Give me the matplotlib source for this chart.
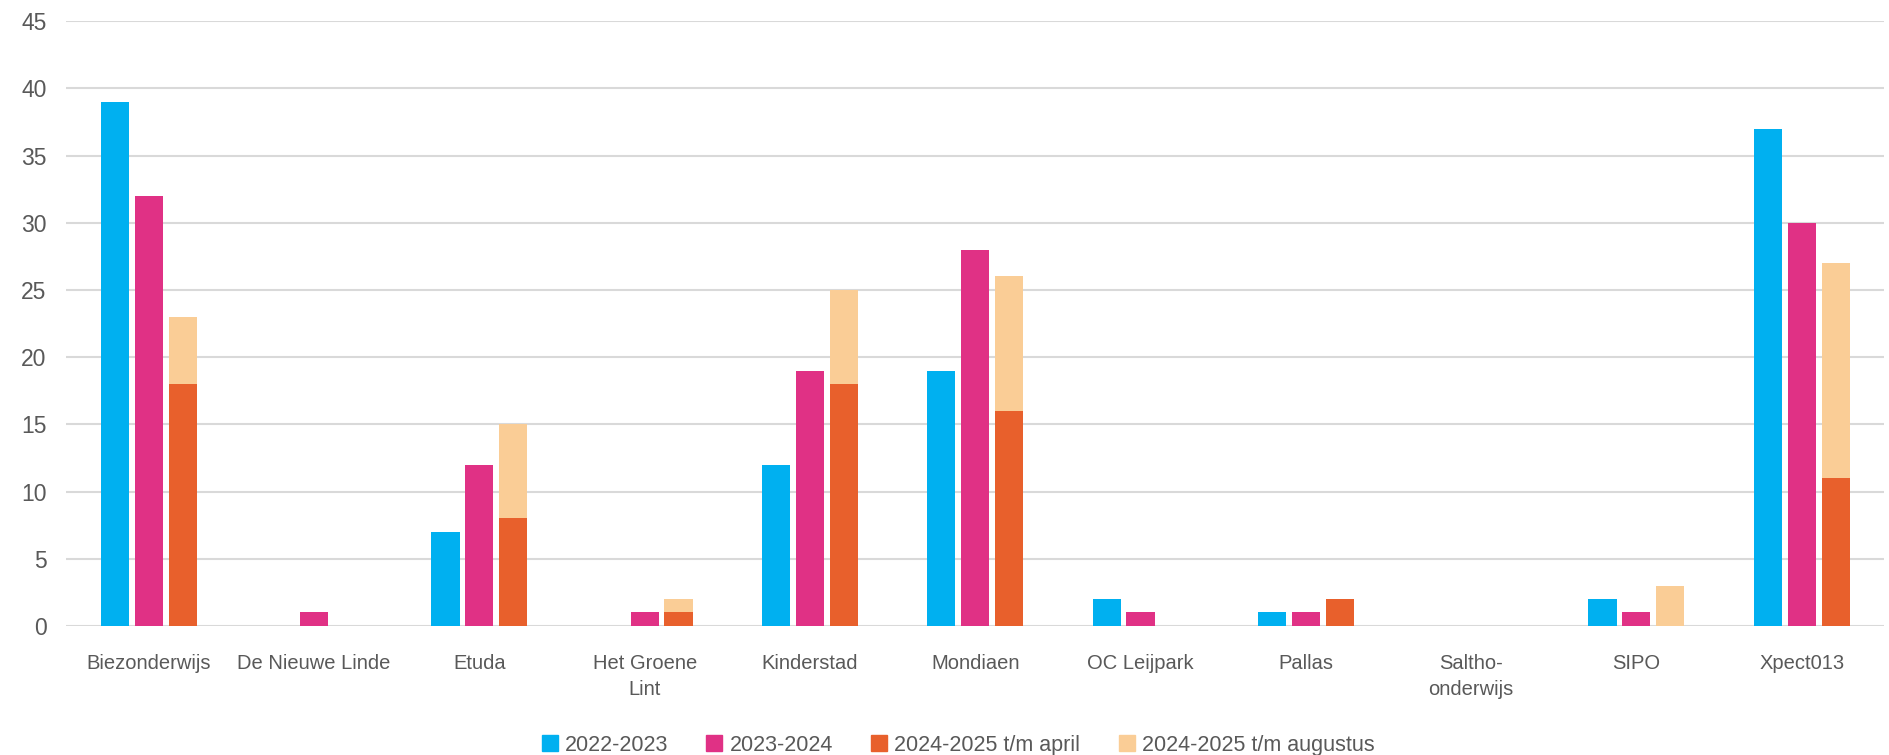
import matplotlib.pyplot as plt
import numpy as np

# Data
scholen = ['Biezonderwijs', 'De Nieuwe Linde', 'Etuda', 'Het Groene\nLint', 'Kinderstad',
           'Mondiaen', 'OC Leijpark', 'Pallas', 'Saltho-\nonderwijs', 'SIPO', 'Xpect013']
jaar_2022_2023 = [39, 0, 7, 0, 12, 19, 2, 1, 0, 2, 37]
jaar_2023_2024 = [32, 1, 12, 1, 19, 28, 1, 1, 0, 1, 30]
tm_april = [18, 0, 8, 1, 18, 16, 0, 2, 0, 0, 11]
tm_augustus = [23, 0, 15, 2, 25, 26, 0, 2, 0, 3, 27]

series_labels = ['2022-2023', '2023-2024', '2024-2025 t/m april', '2024-2025 t/m augustus']
kleuren = ['#00B0F0', '#E03185', '#E8602C', '#FACD96']

plt.rcParams['font.family'] = ['Liberation Sans', 'DejaVu Sans']
tekst_kleur = '#595959'

fig = plt.figure(figsize=(18.9, 7.55), dpi=100)
ax = fig.add_axes([0.035, 0.171, 0.962, 0.801])

x = np.arange(len(scholen))
stap = 0.205
breedte = 0.17

# Staven
ax.bar(x - stap, jaar_2022_2023, breedte, color=kleuren[0], zorder=3)
ax.bar(x, jaar_2023_2024, breedte, color=kleuren[1], zorder=3)
ax.bar(x + stap, tm_april, breedte, color=kleuren[2], zorder=3)
rest = [a - b for a, b in zip(tm_augustus, tm_april)]
ax.bar(x + stap, rest, breedte, bottom=tm_april, color=kleuren[3], zorder=3)

# Assen
ax.set_xlim(-0.5, len(scholen) - 0.5)
ax.set_ylim(0, 45)
ax.set_yticks(range(0, 46, 5))
ax.set_xticks(x)
ax.set_xticklabels(scholen, fontsize=14.5, color=tekst_kleur, linespacing=1.5)
ax.tick_params(axis='y', labelsize=16.5, labelcolor=tekst_kleur, length=0, pad=14)
ax.tick_params(axis='x', length=0, pad=20)
ax.grid(axis='y', color='#D9D9D9', linewidth=1.5, zorder=0)
for spine in ax.spines.values():
    spine.set_visible(False)

# Legenda
handles = [plt.Line2D([], [], marker='s', linestyle='', markersize=11,
                      color=k) for k in kleuren]
fig.legend(handles, series_labels, loc='lower center', ncol=4, frameon=False,
           bbox_to_anchor=(0.507, -0.027), fontsize=15.5, labelcolor=tekst_kleur,
           handletextpad=0.35, columnspacing=1.8, handlelength=0.7)

fig.savefig('out.png', dpi=100)
